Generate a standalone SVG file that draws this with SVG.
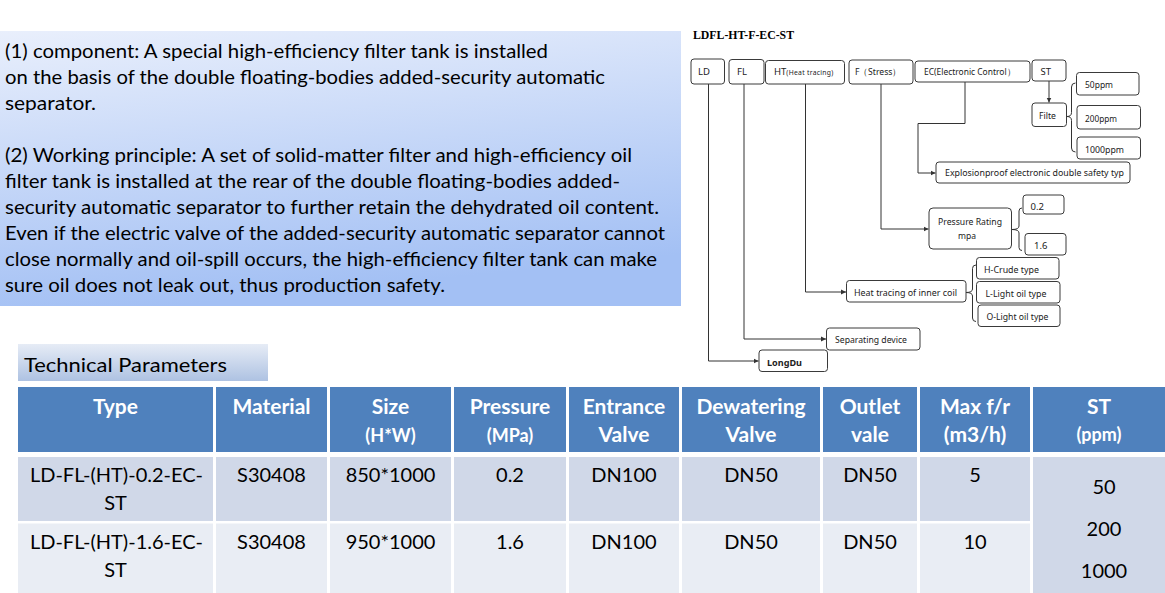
<svg xmlns="http://www.w3.org/2000/svg" width="1165" height="593" viewBox="0 0 1165 593">
<defs>
<linearGradient id="gBox" x1="0" y1="0" x2="0.25" y2="1">
<stop offset="0" stop-color="#e9effc"/>
<stop offset="1" stop-color="#a3c0f4"/>
</linearGradient>
<linearGradient id="gTitle" x1="0" y1="0" x2="0" y2="1">
<stop offset="0" stop-color="#e6ecf6"/>
<stop offset="1" stop-color="#aec2e2"/>
</linearGradient>
<marker id="arr" markerUnits="userSpaceOnUse" markerWidth="6" markerHeight="6" refX="5" refY="3" orient="auto">
<path d="M0,0.5 L5,3 L0,5.5 Z" fill="#333"/>
</marker>
<style>
.para{font-family:Lato,"Liberation Sans",sans-serif;font-size:20px;fill:#000}
.th{font-family:Lato,"Liberation Sans",sans-serif;font-size:21px;font-weight:bold;fill:#fff;text-anchor:middle}
.ths{font-size:18px}
.td{font-family:Lato,"Liberation Sans",sans-serif;font-size:20px;fill:#000;text-anchor:middle}
.hd{fill:#4f81bd}
.r1{fill:#d0d8e8}
.r2{fill:#e9edf4}
.nb{fill:#fff;stroke:#3a3a3a;stroke-width:1}
.lb{font-family:"Noto Sans","DejaVu Sans",sans-serif;font-size:9px;fill:#222}
.lt{font-family:"Noto Sans","DejaVu Sans",sans-serif;font-size:9.5px;fill:#222}
.cn{fill:none;stroke:#333;stroke-width:1}
</style>
</defs>
<rect width="1165" height="593" fill="#fff"/>

<g id="description">
<rect x="0" y="31" width="681" height="275" fill="url(#gBox)"/>
<text class="para" x="5" y="58" textLength="543" lengthAdjust="spacingAndGlyphs">(1) component: A special high-efficiency filter tank is installed</text>
<text class="para" x="5" y="84" textLength="600" lengthAdjust="spacingAndGlyphs">on the basis of the double floating-bodies added-security automatic</text>
<text class="para" x="5" y="110" textLength="91" lengthAdjust="spacingAndGlyphs">separator.</text>
<text class="para" x="5" y="162" textLength="627" lengthAdjust="spacingAndGlyphs">(2) Working principle: A set of solid-matter filter and high-efficiency oil</text>
<text class="para" x="5" y="188" textLength="615" lengthAdjust="spacingAndGlyphs">filter tank is installed at the rear of the double floating-bodies added-</text>
<text class="para" x="5" y="214" textLength="654" lengthAdjust="spacingAndGlyphs">security automatic separator to further retain the dehydrated oil content.</text>
<text class="para" x="5" y="240" textLength="660" lengthAdjust="spacingAndGlyphs">Even if the electric valve of the added-security automatic separator cannot</text>
<text class="para" x="5" y="266" textLength="652" lengthAdjust="spacingAndGlyphs">close normally and oil-spill occurs, the high-efficiency filter tank can make</text>
<text class="para" x="5" y="292" textLength="440" lengthAdjust="spacingAndGlyphs">sure oil does not leak out, thus production safety.</text>
</g>

<g id="tech-title">
<rect x="18" y="344" width="250" height="37" fill="url(#gTitle)"/>
<text class="para" x="24" y="372" font-size="21" textLength="203" lengthAdjust="spacingAndGlyphs">Technical Parameters</text>
</g>

<g id="table">
<rect class="hd" x="18" y="387" width="195" height="65"/>
<rect class="hd" x="216" y="387" width="111" height="65"/>
<rect class="hd" x="330" y="387" width="121" height="65"/>
<rect class="hd" x="454" y="387" width="112" height="65"/>
<rect class="hd" x="569" y="387" width="110" height="65"/>
<rect class="hd" x="682" y="387" width="138" height="65"/>
<rect class="hd" x="823" y="387" width="94" height="65"/>
<rect class="hd" x="920" y="387" width="110" height="65"/>
<rect class="hd" x="1033" y="387" width="132" height="65"/>

<rect class="r1" x="18" y="457" width="195" height="64"/>
<rect class="r1" x="216" y="457" width="111" height="64"/>
<rect class="r1" x="330" y="457" width="121" height="64"/>
<rect class="r1" x="454" y="457" width="112" height="64"/>
<rect class="r1" x="569" y="457" width="110" height="64"/>
<rect class="r1" x="682" y="457" width="138" height="64"/>
<rect class="r1" x="823" y="457" width="94" height="64"/>
<rect class="r1" x="920" y="457" width="110" height="64"/>

<rect class="r2" x="18" y="523.5" width="195" height="69.5"/>
<rect class="r2" x="216" y="523.5" width="111" height="69.5"/>
<rect class="r2" x="330" y="523.5" width="121" height="69.5"/>
<rect class="r2" x="454" y="523.5" width="112" height="69.5"/>
<rect class="r2" x="569" y="523.5" width="110" height="69.5"/>
<rect class="r2" x="682" y="523.5" width="138" height="69.5"/>
<rect class="r2" x="823" y="523.5" width="94" height="69.5"/>
<rect class="r2" x="920" y="523.5" width="110" height="69.5"/>

<rect class="r1" x="1033" y="457" width="132" height="136"/>

<text class="th" x="115.5" y="414">Type</text>
<text class="th" x="271.5" y="414">Material</text>
<text class="th" x="390.5" y="414">Size</text>
<text class="th ths" x="390.5" y="442">(H*W)</text>
<text class="th" x="510" y="414">Pressure</text>
<text class="th ths" x="510" y="442">(MPa)</text>
<text class="th" x="624" y="414">Entrance</text>
<text class="th" x="624" y="442">Valve</text>
<text class="th" x="751" y="414">Dewatering</text>
<text class="th" x="751" y="442">Valve</text>
<text class="th" x="870" y="414">Outlet</text>
<text class="th" x="870" y="442">vale</text>
<text class="th" x="975" y="414">Max f/r</text>
<text class="th" x="975" y="442">(m3/h)</text>
<text class="th" x="1099" y="414">ST</text>
<text class="th ths" x="1099" y="441">(ppm)</text>

<text class="td" x="116.5" y="482">LD-FL-(HT)-0.2-EC-</text>
<text class="td" x="115.5" y="510">ST</text>
<text class="td" x="271.5" y="482">S30408</text>
<text class="td" x="390.5" y="482">850*1000</text>
<text class="td" x="510" y="482">0.2</text>
<text class="td" x="624" y="482">DN100</text>
<text class="td" x="751" y="482">DN50</text>
<text class="td" x="870" y="482">DN50</text>
<text class="td" x="975" y="482">5</text>

<text class="td" x="116.5" y="549">LD-FL-(HT)-1.6-EC-</text>
<text class="td" x="115.5" y="577">ST</text>
<text class="td" x="271.5" y="549">S30408</text>
<text class="td" x="390.5" y="549">950*1000</text>
<text class="td" x="510" y="549">1.6</text>
<text class="td" x="624" y="549">DN100</text>
<text class="td" x="751" y="549">DN50</text>
<text class="td" x="870" y="549">DN50</text>
<text class="td" x="975" y="549">10</text>

<text class="td" x="1104" y="494">50</text>
<text class="td" x="1104" y="536">200</text>
<text class="td" x="1104" y="578">1000</text>
</g>

<text x="693" y="39" font-family="'Liberation Serif',serif" font-size="11.5" font-weight="bold" fill="#000" textLength="101" lengthAdjust="spacingAndGlyphs">LDFL-HT-F-EC-ST</text>

<g id="connectors">
<path class="cn" d="M708.5 84 V361 H758.5" marker-end="url(#arr)"/>
<path class="cn" d="M744 84 V339 H826" marker-end="url(#arr)"/>
<path class="cn" d="M805.5 84 V292 H846" marker-end="url(#arr)"/>
<path class="cn" d="M881 84 V229 H928.5" marker-end="url(#arr)"/>
<path class="cn" d="M965 82 V123.5 H918 V173 H935.5" marker-end="url(#arr)"/>
<path class="cn" d="M1049 81 V102.5" marker-end="url(#arr)"/>
<path class="cn" d="M1075.5 83 Q1071.5 83 1071.5 87 V112.5 Q1071.5 116.5 1067 116.5 Q1071.5 116.5 1071.5 120.5 V148 Q1071.5 152 1075.5 152"/>
<path class="cn" d="M1022 208 Q1019 208 1019 211 V226 Q1019 229.5 1012 229.5 Q1019 229.5 1019 233 V247.5 Q1019 250.5 1022 250.5"/>
<path class="cn" d="M976 265 Q972.5 265 972.5 268.5 V289 Q972.5 292.5 966 292.5 Q972.5 292.5 972.5 296 V318 Q972.5 321.5 976 321.5"/>
</g>

<g id="node-LD">
<rect class="nb" x="691" y="59" width="33.5" height="25" rx="3"/>
<text class="lt" x="698" y="75">LD</text>
</g>
<g id="node-FL">
<rect class="nb" x="729" y="59.5" width="35" height="24.5" rx="3"/>
<text class="lt" x="737" y="75">FL</text>
</g>
<g id="node-HT">
<rect class="nb" x="765.5" y="60.5" width="79" height="23.5" rx="3"/>
<text class="lt" x="774" y="75">HT<tspan font-size="6.8" textLength="47">(Heat tracing)</tspan></text>
</g>
<g id="node-F">
<rect class="nb" x="849" y="60" width="64" height="24" rx="3"/>
<text class="lb" x="855" y="75" textLength="46" lengthAdjust="spacingAndGlyphs">F（Stress）</text>
</g>
<g id="node-EC">
<rect class="nb" x="915" y="61" width="115" height="21" rx="3"/>
<text class="lb" x="924" y="75" textLength="91" lengthAdjust="spacingAndGlyphs">EC(Electronic Control）</text>
</g>
<g id="node-ST">
<rect class="nb" x="1032" y="60" width="34" height="21" rx="3"/>
<text class="lt" x="1040.5" y="75">ST</text>
</g>
<g id="node-Filte">
<rect class="nb" x="1032" y="103" width="34.5" height="23.5" rx="3"/>
<text class="lb" x="1039" y="118.5" textLength="17" lengthAdjust="spacingAndGlyphs">Filte</text>
</g>
<g id="node-50ppm">
<rect class="nb" x="1076.5" y="72.5" width="62.5" height="22.5" rx="3"/>
<text class="lb" x="1085" y="87.5" textLength="28" lengthAdjust="spacingAndGlyphs">50ppm</text>
</g>
<g id="node-200ppm">
<rect class="nb" x="1077" y="105.5" width="63.5" height="23.5" rx="3"/>
<text class="lb" x="1085" y="121.5" textLength="32" lengthAdjust="spacingAndGlyphs">200ppm</text>
</g>
<g id="node-1000ppm">
<rect class="nb" x="1077" y="137" width="63.5" height="22" rx="3"/>
<text class="lb" x="1085" y="152.5" textLength="39" lengthAdjust="spacingAndGlyphs">1000ppm</text>
</g>
<g id="node-explosionproof">
<rect class="nb" x="936" y="162" width="194" height="21" rx="3"/>
<text class="lb" x="945" y="176" textLength="179" lengthAdjust="spacingAndGlyphs">Explosionproof electronic double safety typ</text>
</g>
<g id="node-pressure">
<rect class="nb" x="929" y="208" width="82.5" height="41" rx="4"/>
<text class="lb" x="938" y="224.5" textLength="64" lengthAdjust="spacingAndGlyphs">Pressure Rating</text>
<text class="lb" x="958" y="239" textLength="18" lengthAdjust="spacingAndGlyphs">mpa</text>
</g>
<g id="node-0.2">
<rect class="nb" x="1023" y="195" width="41" height="19" rx="3"/>
<text class="lt" x="1030.5" y="210">0.2</text>
</g>
<g id="node-1.6">
<rect class="nb" x="1025" y="233.5" width="41" height="21.5" rx="3"/>
<text class="lt" x="1034" y="248.5">1.6</text>
</g>
<g id="node-heat">
<rect class="nb" x="846.5" y="280.5" width="119.5" height="21.5" rx="3"/>
<text class="lb" x="854" y="296" textLength="103" lengthAdjust="spacingAndGlyphs">Heat tracing of inner coil</text>
</g>
<g id="node-H">
<rect class="nb" x="976.5" y="257.5" width="82.5" height="21.5" rx="3"/>
<text class="lb" x="984" y="272.5" textLength="55" lengthAdjust="spacingAndGlyphs">H-Crude type</text>
</g>
<g id="node-L">
<rect class="nb" x="976.5" y="281.5" width="83.5" height="21.5" rx="3"/>
<text class="lb" x="985.5" y="296.5" textLength="61" lengthAdjust="spacingAndGlyphs">L-Light oil type</text>
</g>
<g id="node-O">
<rect class="nb" x="978" y="305" width="82" height="21.5" rx="3"/>
<text class="lb" x="986.5" y="320" textLength="62" lengthAdjust="spacingAndGlyphs">O-Light oil type</text>
</g>
<g id="node-separating">
<rect class="nb" x="826.5" y="328" width="93.5" height="22" rx="3"/>
<text class="lb" x="835" y="343" textLength="72" lengthAdjust="spacingAndGlyphs">Separating device</text>
</g>
<g id="node-longdu">
<rect class="nb" x="759" y="350" width="68.5" height="21.5" rx="3"/>
<text class="lb" x="767" y="366" font-weight="bold" textLength="35" lengthAdjust="spacingAndGlyphs">LongDu</text>
</g>
</svg>
